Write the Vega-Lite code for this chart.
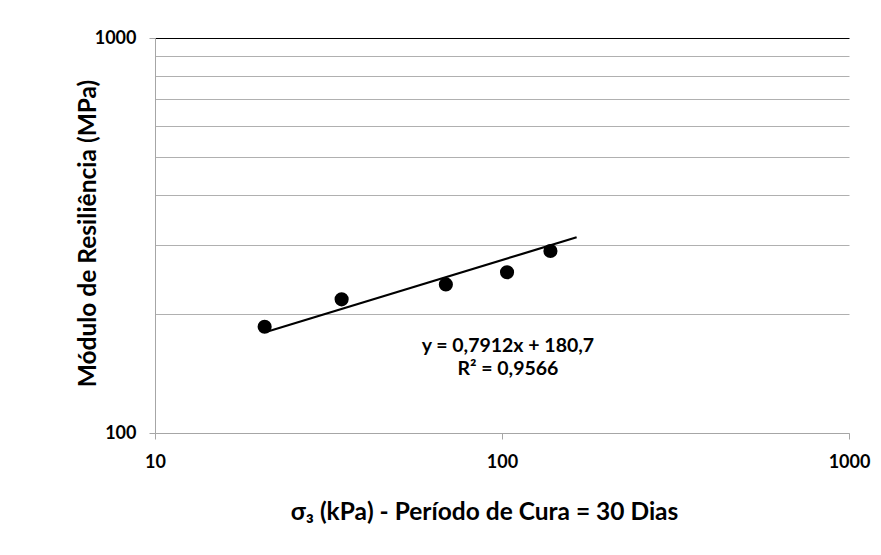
{
  "$schema": "https://vega.github.io/schema/vega-lite/v6.json",
  "width": 694,
  "height": 395,
  "autosize": {"type": "none"},
  "padding": {"left": 155, "top": 38, "right": 32, "bottom": 122},
  "background": "white",
  "config": {
    "view": {"stroke": null},
    "font": "Lato",
    "axis": {"labelFont": "Lato", "titleFont": "Lato", "labelFontWeight": "bold", "titleFontWeight": "bold", "labelColor": "black", "titleColor": "black"}
  },
  "datasets": {
    "pts": [
      {"s3": 20.7, "mr": 185.8},
      {"s3": 34.5, "mr": 218},
      {"s3": 68.9, "mr": 237.8},
      {"s3": 103.4, "mr": 255.2},
      {"s3": 137.9, "mr": 288.9}
    ],
    "trend": [
      {"s3": 21.0, "mr": 180.5},
      {"s3": 164.1, "mr": 312.9}
    ],
    "eq": [
      {"label": "fit"}
    ]
  },
  "layer": [
    {
      "data": {"name": "trend"},
      "mark": {"type": "line", "color": "black", "strokeWidth": 2.2},
      "encoding": {
        "x": {
          "field": "s3", "type": "quantitative",
          "scale": {"type": "log", "domain": [10, 1000], "nice": false},
          "axis": {
            "values": [10, 100, 1000],
            "format": "d",
            "grid": false,
            "domainColor": "#a6a6a6",
            "tickColor": "#a6a6a6",
            "tickSize": 6,
            "labelFontSize": 18,
            "labelPadding": 14,
            "labelFlush": false,
            "title": "σ₃ (kPa) - Período de Cura = 30 Dias",
            "titleFontSize": 24.5,
            "titlePadding": 29,
            "titleX": 329,
            "titleAlign": "center"
          }
        },
        "y": {
          "field": "mr", "type": "quantitative",
          "scale": {"type": "log", "domain": [100, 1000], "nice": false},
          "axis": {
            "values": [100, 200, 300, 400, 500, 600, 700, 800, 900, 1000],
            "format": "d",
            "labelExpr": "datum.value == 100 || datum.value == 1000 ? datum.label : ''",
            "grid": true,
            "gridColor": {"condition": {"test": "datum.value == 1000", "value": "#000000"}, "value": "#b0b0b0"},
            "gridWidth": 1,
            "domainColor": "#a6a6a6",
            "tickColor": {"condition": {"test": "datum.value == 100 || datum.value == 1000", "value": "#a6a6a6"}, "value": "transparent"},
            "tickSize": 6,
            "labelFontSize": 18,
            "labelPadding": 13,
            "labelFlush": false,
            "title": "Módulo de Resiliência (MPa)",
            "titleFontSize": 24.5,
            "titleAngle": -90,
            "titleX": -67,
            "titleY": 195,
            "titleAlign": "center",
            "titleBaseline": "middle"
          }
        }
      }
    },
    {
      "data": {"name": "pts"},
      "mark": {"type": "point", "filled": true, "color": "black", "opacity": 1, "size": 200},
      "encoding": {
        "x": {"field": "s3", "type": "quantitative"},
        "y": {"field": "mr", "type": "quantitative"}
      }
    },
    {
      "data": {"name": "eq"},
      "mark": {"type": "text", "fontSize": 19.5, "fontWeight": "bold", "color": "black", "align": "center", "baseline": "middle", "lineHeight": 23, "font": "Lato"},
      "encoding": {
        "x": {"datum": 104, "type": "quantitative"},
        "y": {"datum": 166.1, "type": "quantitative"},
        "text": {"value": ["y = 0,7912x + 180,7", "R² = 0,9566"]}
      }
    }
  ]
}
